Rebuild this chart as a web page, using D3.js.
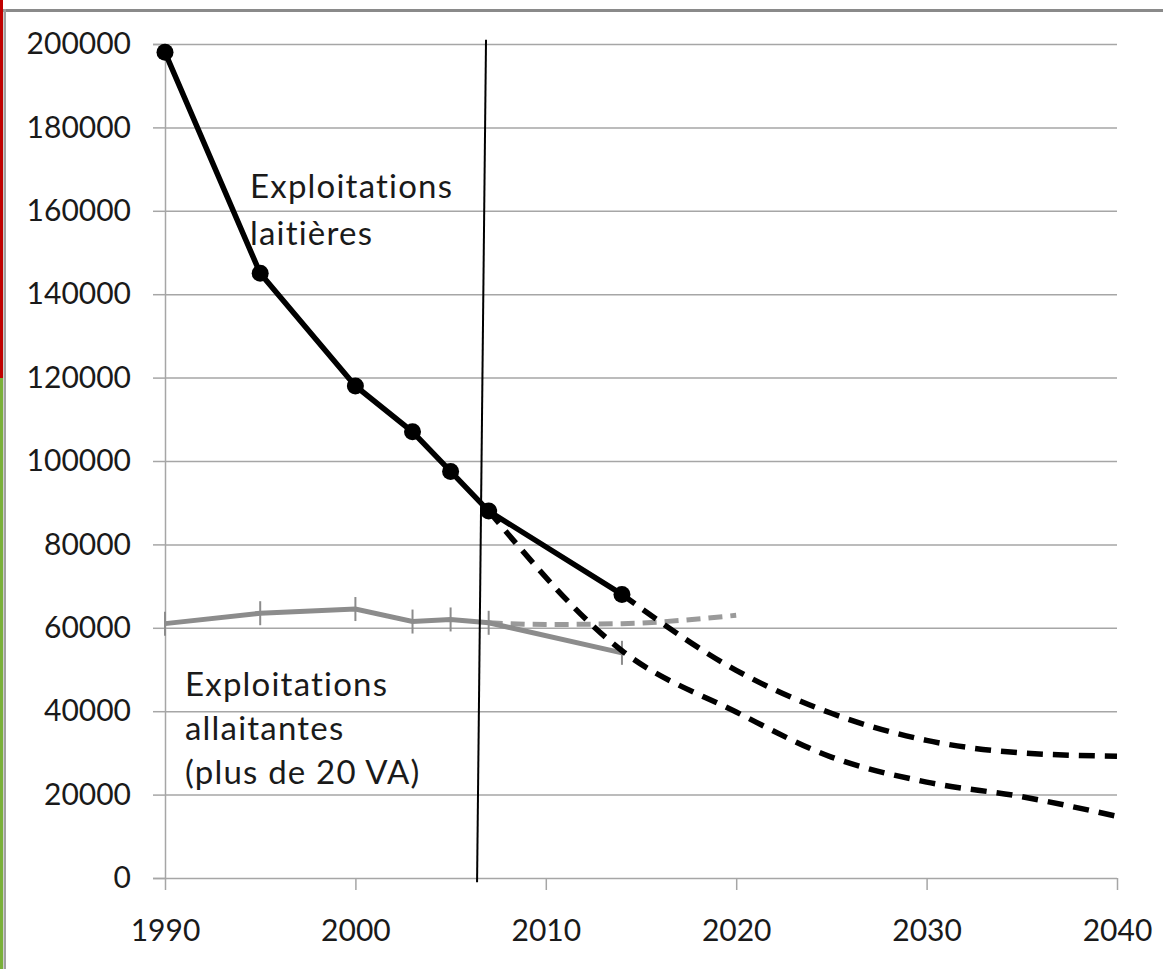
<!DOCTYPE html>
<html>
<head>
<meta charset="utf-8">
<script src="https://cdn.jsdelivr.net/npm/d3@7"></script>
<style>
  html, body { margin: 0; padding: 0; background: #fff; }
  svg { display: block; }
  text { font-family: Lato, "Open Sans", sans-serif; fill: #1a1a1a; }
</style>
</head>
<body>
<svg id="chart" width="1163" height="969"></svg>
<script>
// ---- data ----
const xTicks = [1990, 2000, 2010, 2020, 2030, 2040];
const yTicks = [0, 20000, 40000, 60000, 80000, 100000, 120000, 140000, 160000, 180000, 200000];

const laitiereYears  = [1990, 1995, 2000, 2003, 2005, 2007, 2014];
const laitiereValues = [198000, 145000, 118000, 107000, 97500, 88000, 68000];

const laitiereHighYears  = [2014, 2020, 2025, 2030, 2035, 2040];
const laitiereHighValues = [68000, 49800, 39500, 33000, 30000, 29200];

const laitiereLowYears  = [2007, 2014, 2020, 2025, 2030, 2035, 2040];
const laitiereLowValues = [88000, 54500, 39800, 29000, 23000, 19500, 14800];

const allaitanteYears  = [1990, 1995, 2000, 2003, 2005, 2007, 2014];
const allaitanteValues = [61000, 63500, 64500, 61500, 62000, 61200, 54000];

const allaitanteProjYears  = [2007, 2010, 2014, 2020];
const allaitanteProjValues = [61200, 60800, 61000, 63000];

const separatorYears  = [2006.86, 2006.39];
const separatorValues = [201000, -1000];

const labelLaitieres   = ["Exploitations", "laitières"];
const labelAllaitantes = ["Exploitations", "allaitantes", "(plus de 20 VA)"];

// ---- chart ----
const svg = d3.select("#chart");
const x = d3.scaleLinear().domain([1990, 2040]).range([165, 1117]);
const y = d3.scaleLinear().domain([0, 200000]).range([878, 44]);

// frame decorations
svg.append("rect").attr("x", 0).attr("y", 0).attr("width", 3).attr("height", 378).attr("fill", "#c00000");
svg.append("rect").attr("x", 0).attr("y", 378).attr("width", 3).attr("height", 591).attr("fill", "#7ab03a");
svg.append("rect").attr("x", 3).attr("y", 9).attr("width", 1160).attr("height", 3).attr("fill", "#8a8a8a");
svg.append("rect").attr("x", 3.5).attr("y", 9).attr("width", 2.5).attr("height", 960).attr("fill", "#a0a0a0");

// gridlines + y axis
const yAxis = d3.axisLeft(y).tickValues(yTicks).tickSize(12).tickPadding(22).tickFormat(d3.format("d"));
const gy = svg.append("g").attr("transform", `translate(${x(1990)},0)`).call(yAxis);
gy.select(".domain").attr("stroke", "#a6a6a6").attr("stroke-width", 1.5);
gy.selectAll(".tick line").attr("stroke", "#a6a6a6").attr("stroke-width", 1.5);
gy.selectAll(".tick text").style("font-size", "30px").attr("fill", "#222");
gy.selectAll(".tick").append("line")
  .attr("x1", 0).attr("x2", x(2040) - x(1990))
  .attr("stroke", "#a6a6a6").attr("stroke-width", 1.5);

// x axis
const xAxis = d3.axisBottom(x).tickValues(xTicks).tickSize(12).tickPadding(30).tickFormat(d3.format("d"));
const gx = svg.append("g").attr("transform", `translate(0,${y(0)})`).call(xAxis);
gx.select(".domain").remove();
gx.selectAll(".tick line").attr("stroke", "#a6a6a6").attr("stroke-width", 1.5);
gx.selectAll(".tick text").style("font-size", "30px").attr("fill", "#222");

const toPts = (ys, vs) => ys.map((yr, i) => [yr, vs[i]]);
const lineLin = d3.line().x(d => x(d[0])).y(d => y(d[1]));
const lineSmooth = d3.line().x(d => x(d[0])).y(d => y(d[1])).curve(d3.curveMonotoneX);

// allaitantes (grey)
svg.append("path").datum(toPts(allaitanteProjYears, allaitanteProjValues))
  .attr("d", lineSmooth).attr("fill", "none").attr("stroke", "#9a9a9a")
  .attr("stroke-width", 5).attr("stroke-dasharray", "14 8");
svg.append("path").datum(toPts(allaitanteYears, allaitanteValues))
  .attr("d", lineLin).attr("fill", "none").attr("stroke", "#8c8c8c").attr("stroke-width", 5);
svg.selectAll(".gmark").data(toPts(allaitanteYears, allaitanteValues)).enter().append("line")
  .attr("x1", d => x(d[0])).attr("x2", d => x(d[0]))
  .attr("y1", d => y(d[1]) - 12).attr("y2", d => y(d[1]) + 12)
  .attr("stroke", "#8c8c8c").attr("stroke-width", 2);

// laitières projections (black dashed)
[toPts(laitiereHighYears, laitiereHighValues), toPts(laitiereLowYears, laitiereLowValues)].forEach(pts => {
  svg.append("path").datum(pts).attr("d", lineSmooth).attr("fill", "none")
    .attr("stroke", "#000").attr("stroke-width", 5.5).attr("stroke-dasharray", "16 10");
});

// separator line
svg.append("path").datum(toPts(separatorYears, separatorValues))
  .attr("d", lineLin).attr("stroke", "#000").attr("stroke-width", 2).attr("fill", "none");

// laitières (black)
svg.append("path").datum(toPts(laitiereYears, laitiereValues))
  .attr("d", lineLin).attr("fill", "none").attr("stroke", "#000").attr("stroke-width", 5.5);
svg.selectAll(".bdot").data(toPts(laitiereYears, laitiereValues)).enter().append("circle")
  .attr("cx", d => x(d[0])).attr("cy", d => y(d[1])).attr("r", 8.5).attr("fill", "#000");

// labels
const l1 = svg.append("text").attr("x", 250).attr("y", 198)
  .style("font-size", "33px").style("letter-spacing", "1.2px").attr("fill", "#222");
labelLaitieres.forEach((t, i) => l1.append("tspan").attr("x", 250).attr("dy", i ? 47 : 0).text(t));
const l2 = svg.append("text").attr("x", 185).attr("y", 696)
  .style("font-size", "33px").style("letter-spacing", "1.2px").attr("fill", "#222");
labelAllaitantes.forEach((t, i) => l2.append("tspan").attr("x", 185).attr("dy", i ? 44 : 0).text(t));
</script>
</body>
</html>
